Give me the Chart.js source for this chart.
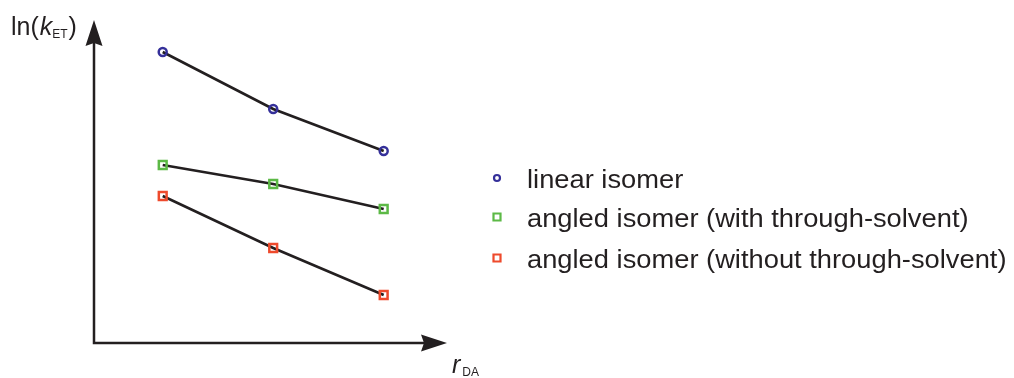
<!DOCTYPE html>
<html>
<head>
<meta charset="utf-8">
<script src="https://cdn.jsdelivr.net/npm/chart.js@4/dist/chart.umd.min.js"></script>
<style>
html,body{margin:0;padding:0;background:#fff;}
#wrap{width:1014px;height:378px;position:relative;}
</style>
</head>
<body>
<div id="wrap"><canvas id="c" width="1014" height="378"></canvas></div>
<script>
const xValues = [1, 2, 3];
const seriesLabels = ["linear isomer", "angled isomer (with through-solvent)", "angled isomer (without through-solvent)"];
const linearValues = [29.1, 23.4, 19.2];
const angledWithValues = [17.8, 15.9, 13.4];
const angledWithoutValues = [14.7, 9.5, 4.8];
const yAxisLabel = ["ln(", "k", "ET", ")"];
const xAxisLabel = ["r", "DA"];

const colors = ["#35309a", "#5cb946", "#ee4a2c"];
const ink = "#231f20";

function pts(vals){ return xValues.map((x,i)=>({x:x, y:vals[i]})); }

const axesPlugin = {
  id: "arrowAxes",
  afterDraw(chart){
    const ctx = chart.ctx, a = chart.chartArea;
    ctx.save();
    ctx.strokeStyle = ink; ctx.fillStyle = ink; ctx.lineWidth = 2.5;
    ctx.beginPath();
    ctx.moveTo(a.left, a.top + 20);
    ctx.lineTo(a.left, a.bottom);
    ctx.lineTo(a.right - 20, a.bottom);
    ctx.stroke();
    ctx.beginPath();
    ctx.moveTo(a.left, a.top);
    ctx.lineTo(a.left + 8.5, a.top + 26);
    ctx.lineTo(a.left, a.top + 23);
    ctx.lineTo(a.left - 8.5, a.top + 26);
    ctx.closePath(); ctx.fill();
    ctx.beginPath();
    ctx.moveTo(a.right, a.bottom);
    ctx.lineTo(a.right - 26, a.bottom + 8.5);
    ctx.lineTo(a.right - 23, a.bottom);
    ctx.lineTo(a.right - 26, a.bottom - 8.5);
    ctx.closePath(); ctx.fill();

    ctx.textBaseline = "alphabetic";
    ctx.textAlign = "left";
    let x = 11, by = 35;
    ctx.font = "25px 'Liberation Sans', Arial, sans-serif";
    ctx.fillText(yAxisLabel[0], x, by); x += ctx.measureText(yAxisLabel[0]).width + 1;
    ctx.font = "italic 25px 'Liberation Sans', Arial, sans-serif";
    ctx.fillText(yAxisLabel[1], x, by); x += ctx.measureText(yAxisLabel[1]).width;
    ctx.font = "12px 'Liberation Sans', Arial, sans-serif";
    ctx.fillText(yAxisLabel[2], x, by + 3); x += ctx.measureText(yAxisLabel[2]).width + 1;
    ctx.font = "25px 'Liberation Sans', Arial, sans-serif";
    ctx.fillText(yAxisLabel[3], x, by);

    x = 452; by = 373;
    ctx.font = "italic 25px 'Liberation Sans', Arial, sans-serif";
    ctx.fillText(xAxisLabel[0], x, by); x += ctx.measureText(xAxisLabel[0]).width + 2;
    ctx.font = "12px 'Liberation Sans', Arial, sans-serif";
    ctx.fillText(xAxisLabel[1], x, by + 3);

    const rows = [188, 227, 268];
    chart.data.datasets.forEach((ds, i) => {
      const my = rows[i] - 10, mx = 497;
      ctx.lineWidth = 2.2;
      ctx.strokeStyle = ds.pointBorderColor;
      ctx.beginPath();
      if (ds.pointStyle === "circle") {
        ctx.arc(mx, my, 3, 0, Math.PI*2);
      } else {
        ctx.rect(mx - 3.5, my - 3.5, 7, 7);
      }
      ctx.stroke();
      ctx.save();
      ctx.fillStyle = ink;
      ctx.font = "26px 'Liberation Sans', Arial, sans-serif";
      ctx.translate(527, rows[i]);
      ctx.scale(1.05, 1);
      ctx.fillText(ds.label, 0, 0);
      ctx.restore();
    });
    ctx.restore();
  }
};

function ds(label, vals, color, style){
  const r = style === "circle" ? 4 : 5.5;
  return {
    label: label,
    data: pts(vals),
    borderColor: ink,
    borderWidth: 2.6,
    pointStyle: style,
    pointRadius: r,
    pointBorderWidth: 2.5,
    pointBorderColor: color,
    pointBackgroundColor: "rgba(0,0,0,0)",
    pointHoverRadius: r,
    fill: false,
    tension: 0,
    clip: false
  };
}

new Chart(document.getElementById("c"), {
  type: "line",
  data: {
    datasets: [
      ds(seriesLabels[0], linearValues, colors[0], "circle"),
      ds(seriesLabels[1], angledWithValues, colors[1], "rect"),
      ds(seriesLabels[2], angledWithoutValues, colors[2], "rect")
    ]
  },
  options: {
    responsive: false,
    animation: false,
    devicePixelRatio: 1,
    layout: { padding: { left: 94, top: 20, right: 1014 - 447, bottom: 378 - 343 } },
    plugins: { legend: { display: false }, tooltip: { enabled: false } },
    scales: {
      x: { type: "linear", min: 0.378, max: 3.573, display: false },
      y: { type: "linear", min: 0, max: 32.3, display: false }
    }
  },
  plugins: [axesPlugin]
});
</script>
</body>
</html>
